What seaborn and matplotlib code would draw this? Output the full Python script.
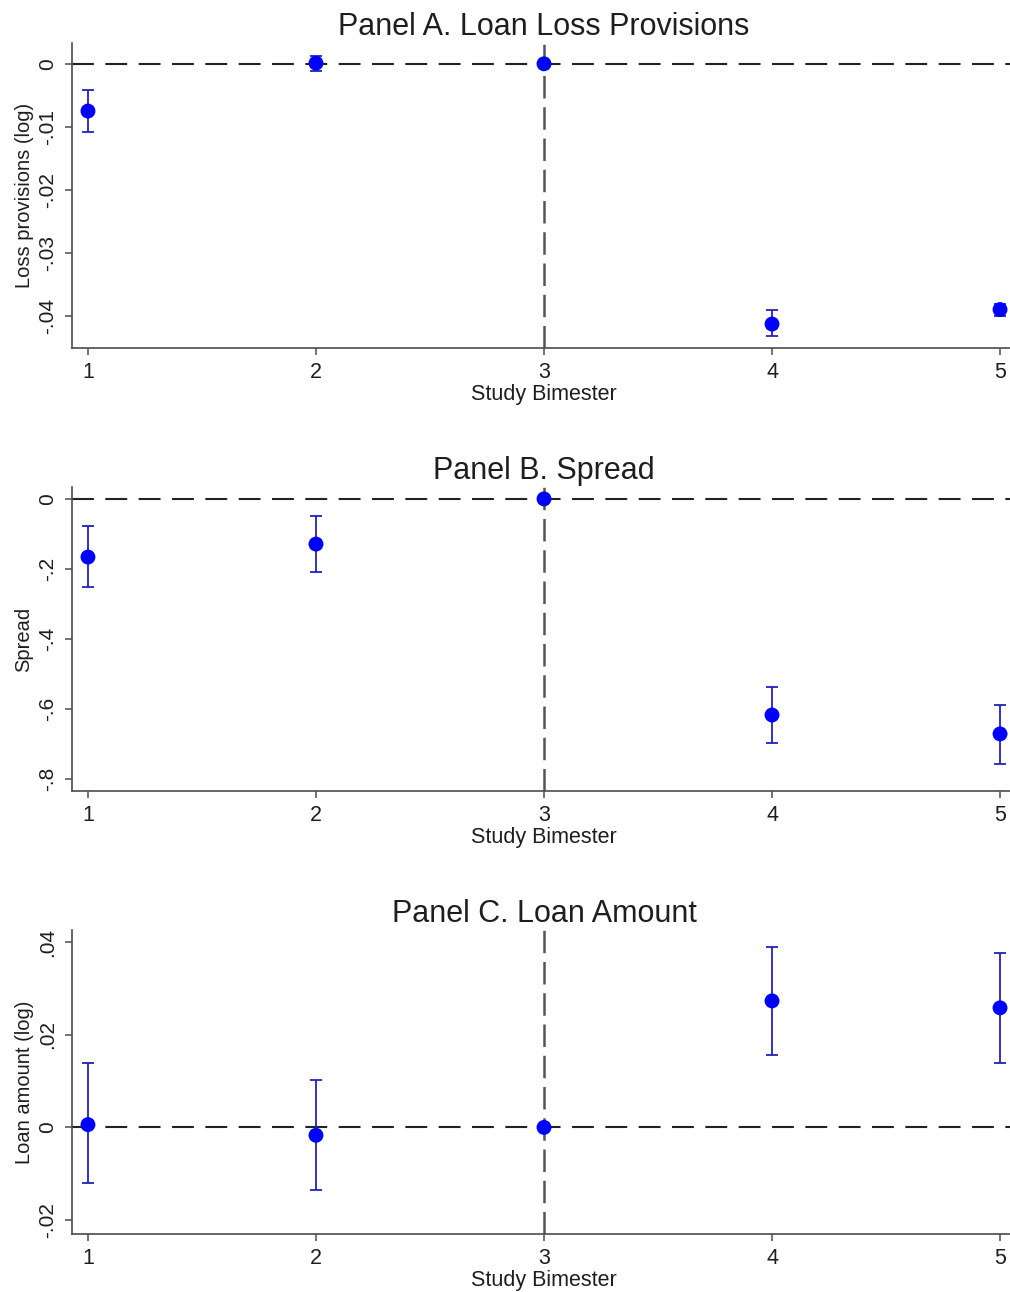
import numpy as np
import pandas as pd
import matplotlib
matplotlib.use("Agg")
import matplotlib.pyplot as plt
import seaborn as sns

# ---------------- data ----------------
bimesters = [1, 2, 3, 4, 5]
xtick_labels = ["1", "2", "3", "4", "5"]

# Panel A
loss_coef = [-0.0075, 0.0001, 0.0, -0.0413, -0.0390]
loss_lo = [-0.0108, -0.0011, np.nan, -0.0432, -0.0400]
loss_hi = [-0.0041, 0.0013, np.nan, -0.0390, -0.0381]
loss_yticks = [0.0, -0.01, -0.02, -0.03, -0.04]
loss_yticklabels = ["0", "-.01", "-.02", "-.03", "-.04"]

# Panel B
spread_coef = [-0.166, -0.129, 0.0, -0.617, -0.671]
spread_lo = [-0.251, -0.209, np.nan, -0.697, -0.757]
spread_hi = [-0.077, -0.049, np.nan, -0.537, -0.589]
spread_yticks = [0.0, -0.2, -0.4, -0.6, -0.8]
spread_yticklabels = ["0", "-.2", "-.4", "-.6", "-.8"]

# Panel C
amount_coef = [0.0006, -0.0017, 0.0, 0.0273, 0.0258]
amount_lo = [-0.0120, -0.0135, np.nan, 0.0157, 0.0140]
amount_hi = [0.0138, 0.0103, np.nan, 0.0390, 0.0376]
amount_yticks = [0.04, 0.02, 0.0, -0.02]
amount_yticklabels = [".04", ".02", "0", "-.02"]

titles = ["Panel A. Loan Loss Provisions", "Panel B. Spread", "Panel C. Loan Amount"]
ylabels = ["Loss provisions (log)", "Spread", "Loan amount (log)"]
xlabel = "Study Bimester"
event_x = 3

# ---------------- style ----------------
sns.set_theme(style="ticks")
plt.rcParams["font.family"] = ["Liberation Sans", "DejaVu Sans"]

W, H = 1010, 1292
fig = plt.figure(figsize=(W / 100, H / 100), dpi=100)

# axes boxes in pixels: (left, top, right, bottom)
boxes = [(72, 43, 1016, 348), (72, 487, 1016, 791), (72, 930, 1016, 1234)]
ylims = [(-0.0451, 0.0033), (-0.834, 0.034), (-0.023, 0.0426)]

panels = [
    (loss_coef, loss_lo, loss_hi, loss_yticks, loss_yticklabels),
    (spread_coef, spread_lo, spread_hi, spread_yticks, spread_yticklabels),
    (amount_coef, amount_lo, amount_hi, amount_yticks, amount_yticklabels),
]

spine_col = "#4d4d4d"
txt_col = "#1e1e1e"
for i, (coef, lo, hi, yt, ytl) in enumerate(panels):
    l, t, r, b = boxes[i]
    ax = fig.add_axes([l / W, 1 - b / H, (r - l) / W, (b - t) / H])
    df = pd.DataFrame({"x": bimesters, "coef": coef, "lo": lo, "hi": hi})
    ci = df.dropna()

    ax.axhline(0, color="#222222", lw=1.5, dashes=(10.5, 5.5), zorder=1)
    ax.axvline(event_x, color="#555555", lw=1.8, dashes=(9, 3.5), zorder=1)

    ax.errorbar(ci["x"], ci["coef"],
                yerr=[ci["coef"] - ci["lo"], ci["hi"] - ci["coef"]],
                fmt="none", ecolor="#2222bb", elinewidth=1.3,
                capsize=4, capthick=1.3, zorder=2)
    sns.scatterplot(data=df, x="x", y="coef", ax=ax, color="#0000ff",
                    s=115, edgecolor="none", zorder=3, legend=False)

    ax.set_xlim(0.93, 5.07)
    ax.set_ylim(*ylims[i])
    ax.set_xticks(bimesters)
    ax.set_xticklabels(xtick_labels, fontsize=15.5, color=txt_col)
    ax.set_yticks(yt)
    ax.set_yticklabels(ytl, fontsize=15, rotation=90, va="center", color=txt_col)
    ax.tick_params(axis="both", length=5, width=1.1, color=spine_col)
    ax.tick_params(axis="x", pad=5)
    ax.tick_params(axis="y", pad=6)
    ax.set_xlabel(xlabel, fontsize=15.5, labelpad=0.5, color=txt_col)
    ax.set_ylabel(ylabels[i], fontsize=14.5, labelpad=3, color=txt_col)
    ax.set_title(titles[i], fontsize=22, pad=6, color=txt_col)
    sns.despine(ax=ax)
    for s in ["left", "bottom"]:
        ax.spines[s].set_color(spine_col)
        ax.spines[s].set_linewidth(1.2)

fig.savefig("out.png", dpi=100)
